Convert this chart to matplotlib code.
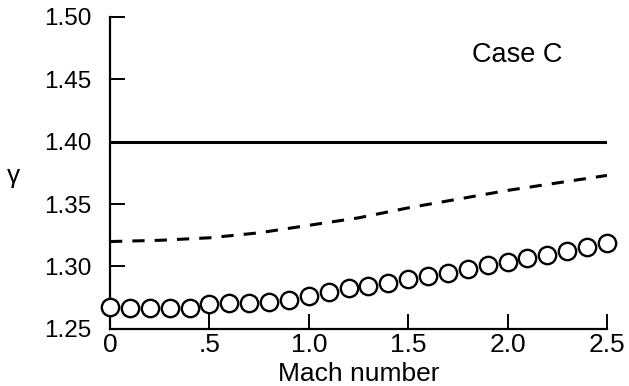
import matplotlib
matplotlib.use("Agg")
import matplotlib.pyplot as plt
import numpy as np

plt.rcParams['font.family'] = ['Liberation Sans', 'DejaVu Sans']

# ideal gas reference value
mach_ideal = [0.0, 2.5]
gamma_ideal = [1.40, 1.40]

# dashed curve
mach_dash = [0.0, 0.25, 0.5, 0.75, 1.0, 1.25, 1.5, 1.75, 2.0, 2.25, 2.5]
gamma_dash = [1.320, 1.321, 1.323, 1.327, 1.333, 1.339, 1.347, 1.354, 1.361, 1.367, 1.373]

# open circles
mach_pts = [0.0, 0.1, 0.2, 0.3, 0.4, 0.5, 0.6, 0.7, 0.8, 0.9, 1.0, 1.1, 1.2,
            1.3, 1.4, 1.5, 1.6, 1.7, 1.8, 1.9, 2.0, 2.1, 2.2, 2.3, 2.4, 2.5]
gamma_pts = [1.2676, 1.2668, 1.2668, 1.2668, 1.2668, 1.2700, 1.2708, 1.2710,
             1.2716, 1.2732, 1.2764, 1.2796, 1.2829, 1.2845, 1.2869, 1.2900,
             1.2925, 1.2949, 1.2980, 1.3013, 1.3037, 1.3069, 1.3093, 1.3125,
             1.3157, 1.3189]

xticks = [0.0, 0.5, 1.0, 1.5, 2.0, 2.5]
xtick_labels = ["0", ".5", "1.0", "1.5", "2.0", "2.5"]
yticks = [1.25, 1.30, 1.35, 1.40, 1.45, 1.50]
ytick_labels = ["1.25", "1.30", "1.35", "1.40", "1.45", "1.50"]

fig = plt.figure(figsize=(6.29, 3.86), dpi=100)
ax = fig.add_axes([0.175, 0.148, 0.790, 0.808])

ax.plot(mach_ideal, gamma_ideal, color="black", lw=2.2, solid_capstyle="butt")
ax.plot(mach_dash, gamma_dash, color="black", lw=2.2, dashes=(4, 3.3))
ax.plot(mach_pts, gamma_pts, "o", ms=12.5, mfc="white", mec="black", mew=1.7,
        clip_on=False, zorder=3)

ax.text(1.82, 1.4696, "Case C", fontsize=19.5, va="center", ha="left")

ax.set_xlim(0, 2.5)
ax.set_ylim(1.25, 1.50)
ax.set_xticks(xticks)
ax.set_xticklabels(xtick_labels)
ax.set_yticks(yticks)
ax.set_yticklabels(ytick_labels)

ax.spines["top"].set_visible(False)
ax.spines["right"].set_visible(False)
ax.spines["left"].set_linewidth(1.6)
ax.spines["bottom"].set_linewidth(1.6)
ax.tick_params(direction="in", length=11, width=1.4)
ax.tick_params(axis="y", pad=13.5, labelsize=17.5)
ax.tick_params(axis="x", pad=3, labelsize=19)

# axis titles: gamma sits left of the tick labels, Mach number just under them
ax.set_xlabel("Mach number", fontsize=19)
ax.xaxis.set_label_coords(0.5, -0.105)
ax.set_ylabel("\u03b3", fontsize=19, rotation=0, va="center", ha="center")
ax.yaxis.set_label_coords(-0.195, 0.49)

fig.savefig("out.png", dpi=100)
